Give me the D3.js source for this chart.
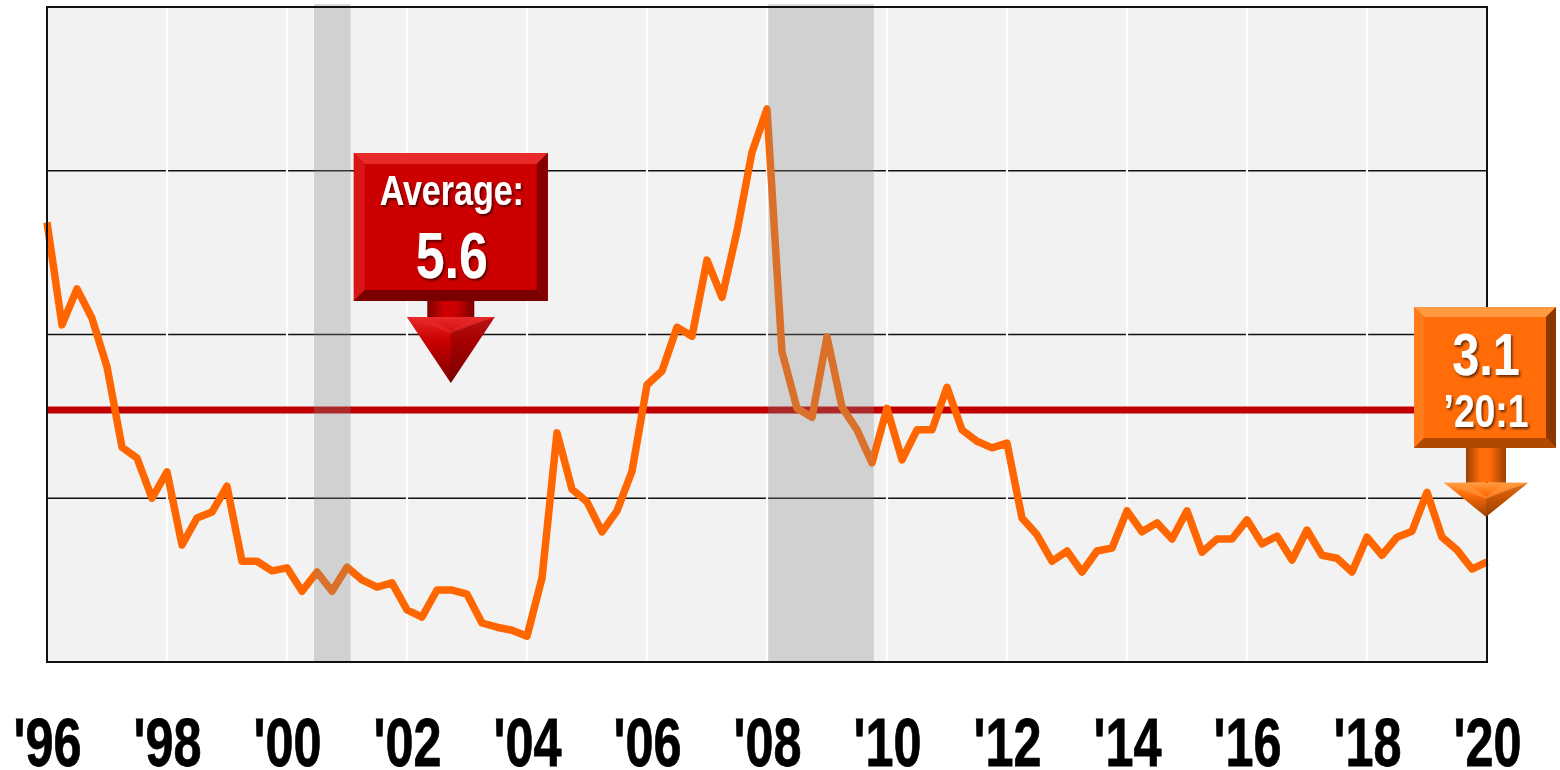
<!DOCTYPE html>
<html>
<head>
<meta charset="utf-8">
<script src="https://cdn.jsdelivr.net/npm/d3@7"></script>
<style>
  body { margin: 0; background: #fff; }
  svg { display: block; }
</style>
</head>
<body>
<div id="chart"></div>
<script>
// quarterly series, 1996:1 .. 2020:1
const startYear = 1996;
const quarterValues = [
  8.73, 7.02, 7.62, 7.13, 6.32, 4.98, 4.80, 4.13, 4.57, 3.35,
  3.80, 3.90, 4.33, 3.08, 3.08, 2.92, 2.97, 2.58, 2.90, 2.58,
  2.98, 2.77, 2.65, 2.72, 2.27, 2.15, 2.60, 2.60, 2.53, 2.05,
  1.98, 1.93, 1.83, 2.80, 5.22, 4.28, 4.07, 3.57, 3.92, 4.58,
  6.02, 6.25, 6.98, 6.83, 8.10, 7.48, 8.58, 9.90, 10.62, 6.57,
  5.63, 5.48, 6.82, 5.65, 5.27, 4.72, 5.63, 4.77, 5.27, 5.27,
  5.98, 5.27, 5.08, 4.97, 5.05, 3.80, 3.52, 3.08, 3.25, 2.90,
  3.25, 3.30, 3.92, 3.57, 3.72, 3.45, 3.92, 3.23, 3.45, 3.45,
  3.77, 3.37, 3.50, 3.10, 3.60, 3.18, 3.13, 2.90, 3.48, 3.18,
  3.48, 3.58, 4.23, 3.48, 3.27, 2.95, 3.07
];
const averageValue = 5.6;
const averageText = ['Average:', '5.6'];
const latestText = ['3.1', '\u201920:1'];

// shaded periods (decimal years)
const recessions = [[2000.45, 2001.06], [2008.02, 2009.78]];

const tickYears = [1996, 1998, 2000, 2002, 2004, 2006, 2008, 2010, 2012, 2014, 2016, 2018, 2020];
const tickLabels = ["'96", "'98", "'00", "'02", "'04", "'06", "'08", "'10", "'12", "'14", "'16", "'18", "'20"];

const yDomain = [1.4, 12.32];
const yGridCount = 4;

let margin = { top: 7, left: 47, right: 73, bottom: 108 },
  totalW = 1560,
  totalH = 770;

// no narrow font installed, so squeeze a bold sans horizontally
const fontFam = '"Liberation Sans", Arial, sans-serif';
const squeeze = 0.81;

let data = quarterValues.map(function(v, i) {
  return { t: startYear + i / 4, v: v };
});

let svg = d3.select('#chart')
  .append('svg')
  .attr('width', totalW)
  .attr('height', totalH);

let defs = svg.append('defs');

let x = d3.scaleLinear()
  .domain([tickYears[0], tickYears[tickYears.length - 1]])
  .range([margin.left, totalW - margin.right]);

let y = d3.scaleLinear()
  .domain(yDomain)
  .range([totalH - margin.bottom, margin.top]);

let x0 = x.range()[0], x1 = x.range()[1];
let y0 = y.range()[1], y1 = y.range()[0];

// plot background
svg.append('rect')
  .attr('x', x0).attr('y', y0)
  .attr('width', x1 - x0).attr('height', y1 - y0)
  .attr('fill', '#f2f2f2');

// horizontal gridlines
let gridVals = d3.range(1, yGridCount).map(function(i) {
  return yDomain[0] + i * (yDomain[1] - yDomain[0]) / yGridCount;
});
svg.append('g')
  .selectAll('line')
  .data(gridVals)
  .enter()
  .append('line')
  .attr('x1', x0).attr('x2', x1)
  .attr('y1', function(d) { return y(d); })
  .attr('y2', function(d) { return y(d); })
  .attr('stroke', '#111')
  .attr('stroke-width', 1.6);

// white vertical gridlines
svg.append('g')
  .selectAll('line')
  .data(tickYears.slice(1, -1))
  .enter()
  .append('line')
  .attr('x1', function(d) { return x(d); })
  .attr('x2', function(d) { return x(d); })
  .attr('y1', y0).attr('y2', y1)
  .attr('stroke', '#ffffff')
  .attr('stroke-width', 2.2);

// average line
svg.append('line')
  .attr('x1', x0).attr('x2', x1)
  .attr('y1', y(averageValue)).attr('y2', y(averageValue))
  .attr('stroke', '#c00000')
  .attr('stroke-width', 7);

// series line
let line = d3.line()
  .x(function(d) { return x(d.t); })
  .y(function(d) { return y(d.v); });

svg.append('path')
  .datum(data)
  .attr('d', line)
  .attr('fill', 'none')
  .attr('stroke', '#ff6600')
  .attr('stroke-width', 7.5)
  .attr('stroke-linejoin', 'round')
  .attr('stroke-linecap', 'butt');

// recession shading drawn over the lines
svg.append('g')
  .selectAll('rect')
  .data(recessions)
  .enter()
  .append('rect')
  .attr('x', function(d) { return x(d[0]); })
  .attr('width', function(d) { return x(d[1]) - x(d[0]); })
  .attr('y', y0 - 3)
  .attr('height', y1 - y0 + 3)
  .attr('fill', '#878787')
  .attr('opacity', 0.31);

// frame
svg.append('rect')
  .attr('x', x0).attr('y', y0)
  .attr('width', x1 - x0).attr('height', y1 - y0)
  .attr('fill', 'none')
  .attr('stroke', '#111')
  .attr('stroke-width', 2);

// x axis labels
let xAxis = svg.append('g')
  .attr('transform', `translate(0,${y1})`)
  .call(d3.axisBottom(x)
    .tickValues(tickYears)
    .tickSize(0)
    .tickFormat(function(d, i) { return tickLabels[i]; }));

xAxis.select('.domain').remove();
xAxis.selectAll('text')
  .attr('y', 0)
  .attr('dy', 0)
  .attr('transform', 'translate(0,104) scale(0.73,1)')
  .attr('fill', '#000')
  .attr('stroke', '#000')
  .attr('stroke-width', 0.8)
  .style('font-family', fontFam)
  .style('font-weight', 'bold')
  .style('font-size', '69px');

// text shadow filter
let f = defs.append('filter')
  .attr('id', 'tshadow')
  .attr('x', '-20%').attr('y', '-20%')
  .attr('width', '140%').attr('height', '140%');
f.append('feDropShadow')
  .attr('dx', 2).attr('dy', 2)
  .attr('stdDeviation', 1.2)
  .attr('flood-color', '#000')
  .attr('flood-opacity', 0.6);

function makeGrad(id, stops, horizontal) {
  let g = defs.append('linearGradient')
    .attr('id', id)
    .attr('x1', 0).attr('y1', 0)
    .attr('x2', horizontal ? 1 : 0).attr('y2', horizontal ? 0 : 1);
  stops.forEach(function(s) {
    g.append('stop').attr('offset', s[0]).attr('stop-color', s[1]);
  });
}

// beveled box + down arrow callout
function callout(opt) {
  let g = svg.append('g');
  let bx = opt.tipX - opt.anchor, by = opt.boxY, w = opt.w, h = opt.h, b = opt.bevel;
  let c = opt.colors;

  // arrow behind box
  let sw = opt.shaftW / 2, hw = opt.headW / 2, cx = opt.tipX;
  let hy = opt.tipY - opt.headH;
  makeGrad(opt.id + 'shaft', [[0, c.dark], [0.35, c.face], [0.6, c.face], [1, c.dark]], true);
  makeGrad(opt.id + 'head', [[0, c.light], [0.35, c.face], [1, c.dark]], false);
  g.append('path')
    .attr('d', `M${cx - sw},${by + h - 14} L${cx + sw},${by + h - 14} L${cx + sw},${hy} L${cx - sw},${hy} Z`)
    .attr('fill', `url(#${opt.id}shaft)`);
  g.append('path')
    .attr('d', `M${cx - hw},${hy} L${cx + hw},${hy} L${cx},${opt.tipY} Z`)
    .attr('fill', `url(#${opt.id}head)`);
  g.append('path')
    .attr('d', `M${cx + hw},${hy} L${cx},${opt.tipY} L${cx},${hy + 14} Z`)
    .attr('fill', c.dark)
    .attr('opacity', 0.45);
  g.append('path')
    .attr('d', `M${cx - hw},${hy} L${cx - sw},${hy} L${cx},${hy + 14} L${cx + sw},${hy} L${cx + hw},${hy} L${cx},${hy + 16} Z`)
    .attr('fill', c.light)
    .attr('opacity', 0.6);

  // box bevel
  g.append('rect')
    .attr('x', bx).attr('y', by).attr('width', w).attr('height', h)
    .attr('fill', c.face);
  g.append('path')
    .attr('d', `M${bx},${by} L${bx + w},${by} L${bx + w - b},${by + b} L${bx + b},${by + b} Z`)
    .attr('fill', c.light);
  g.append('path')
    .attr('d', `M${bx},${by} L${bx + b},${by + b} L${bx + b},${by + h - b} L${bx},${by + h} Z`)
    .attr('fill', c.left);
  g.append('path')
    .attr('d', `M${bx + w},${by} L${bx + w},${by + h} L${bx + w - b},${by + h - b} L${bx + w - b},${by + b} Z`)
    .attr('fill', c.right);
  g.append('path')
    .attr('d', `M${bx},${by + h} L${bx + w},${by + h} L${bx + w - b},${by + h - b} L${bx + b},${by + h - b} Z`)
    .attr('fill', c.bottom);

  opt.lines.forEach(function(l) {
    g.append('text')
      .attr('x', 0)
      .attr('y', 0)
      .attr('transform', `translate(${bx + w / 2 + 1},${by + l.dy}) scale(${squeeze},1)`)
      .attr('text-anchor', 'middle')
      .attr('fill', '#fff')
      .attr('filter', 'url(#tshadow)')
      .style('font-family', fontFam)
      .style('font-weight', 'bold')
      .style('font-size', l.size + 'px')
      .text(l.text);
  });
}

// average callout
callout({
  id: 'avg',
  tipX: x(2002.73),
  tipY: y(averageValue) - 27,
  anchor: 97,
  boxY: 153,
  w: 194, h: 148, bevel: 11,
  shaftW: 47, headW: 88, headH: 66,
  colors: { face: '#cc0000', light: '#e82a2a', left: '#d81414', right: '#860000', bottom: '#7a0000', dark: '#7a0000' },
  lines: [
    { text: averageText[0], size: 42, dy: 52 },
    { text: averageText[1], size: 64, dy: 125 }
  ]
});

// latest value callout
let last = data[data.length - 1];
callout({
  id: 'last',
  tipX: x(last.t) - 1,
  tipY: y(last.v) - 45,
  anchor: 72,
  boxY: 307,
  w: 142, h: 141, bevel: 10,
  shaftW: 40, headW: 84, headH: 34,
  colors: { face: '#ff6c08', light: '#ff9a40', left: '#ff7a1a', right: '#8a3800', bottom: '#b04800', dark: '#9a4000' },
  lines: [
    { text: latestText[0], size: 60, dy: 68 },
    { text: latestText[1], size: 46, dy: 120 }
  ]
});
</script>
</body>
</html>
